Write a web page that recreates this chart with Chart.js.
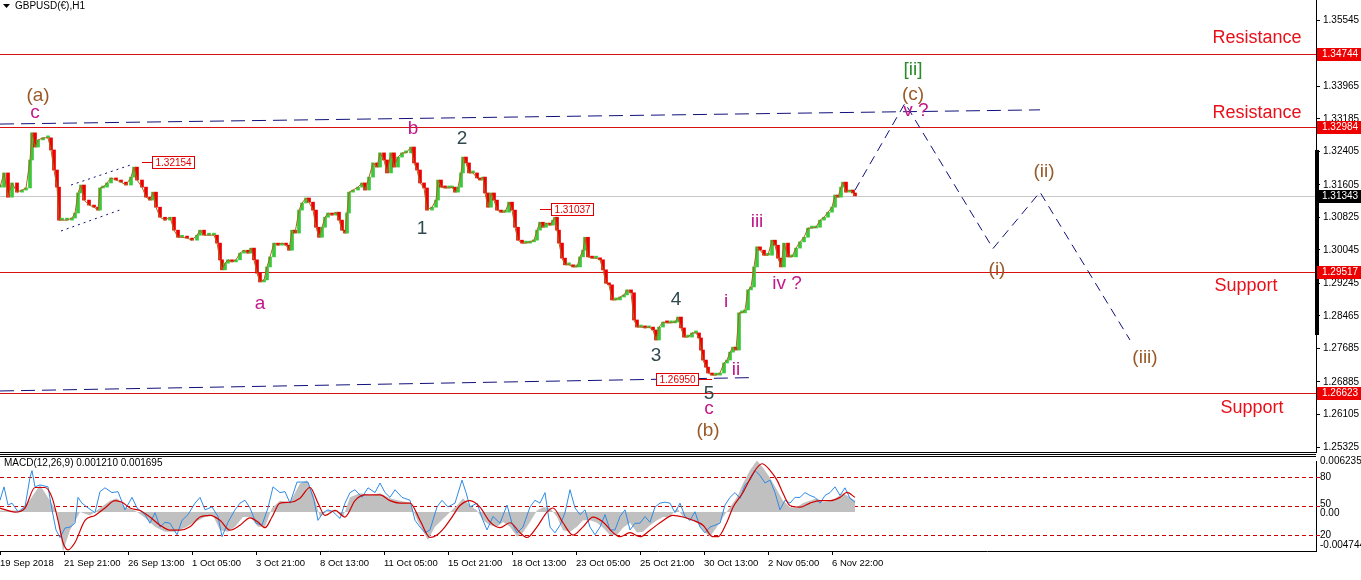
<!DOCTYPE html>
<html><head><meta charset="utf-8">
<script src="https://cdn.jsdelivr.net/npm/chart.js@4.4.1/dist/chart.umd.min.js"></script>
<style>
html,body{margin:0;padding:0;background:#fff;}
#wrap{position:relative;width:1361px;height:580px;overflow:hidden;background:#fff;}
canvas{position:absolute;left:0;}
#c1{top:0;} #c2{top:455px;}
</style></head><body>
<div id="wrap"><canvas id="c1" width="1361" height="455"></canvas><canvas id="c2" width="1361" height="125"></canvas></div>
<script>
// ---------- DATA ----------
const symbolTitle = 'GBPUSD(€),H1';
const macdTitle = 'MACD(12,26,9) 0.001210 0.001695';

// hourly bar index (trading hours from first bar) and close prices
const priceBars = [
  0,4,8,12,17,22,26,30,32,35,
  38,43,48,51,54,57,59,62,67,72,
  75,78,81,84,89,94,98,100,103,107,
  111,116,121,126,131,134,137,142,146,150,
  153,156,160,165,170,174,178,182,187,192,
  197,200,204,209,214,217,220,222,225,228,
  232,236,240,244,248,251,254,257,260,264,
  267,270,274,278,282,286,289,292,295,299,
  302,306,309,313,316,319,322,325,328,332,
  336,339,342,345,347,349,353,358,362,365,
  369,373,377,380,384,387,391,394,398,402,
  406,411,414,417,420,424,427,432,436,438,
  441,445,449,452,455,458,461,463,466,469,
  473,477,480,483,485,488,491,494,497,501,
  505,509,512,515,518,522,526,530,534,537,
  540,543,546,550,553,555,557,559,562,565,
  569,573,577,580,583,585,588,592,596,600,
  603,606,609,612,616,620,624,627,631,634,
  637,641,645,649,653,656,659,663,667,671,
  675,678,681,684,688,692,696,699,701,703,
  706,708,712,716,720,724,727,730,733,736,
  739,742,745,748,751,754,757,760,764,768,
  772,775,778,781,784,788,792,796,800,804,
  808,812,816,820,824,828,832,835,838,841,
  843,846,850,853,855];
const closes = [
  1.3155,1.3189,1.3131,1.3165,1.3143,1.3148,1.3153,1.3220,1.3285,1.3251,
  1.3268,1.3273,1.3273,1.3244,1.3196,1.3155,1.3076,1.3076,1.3076,1.3081,
  1.3093,1.3141,1.3160,1.3124,1.3112,1.3107,1.3100,1.3153,1.3155,1.3165,
  1.3177,1.3172,1.3167,1.3160,1.3179,1.3203,1.3172,1.3155,1.3131,1.3124,
  1.3143,1.3107,1.3083,1.3076,1.3083,1.3052,1.3035,1.3035,1.3033,1.3028,
  1.3040,1.3052,1.3040,1.3040,1.3040,1.3021,1.2981,1.2957,1.2973,1.2981,
  1.2976,1.2981,1.2997,1.3004,1.2997,1.3009,1.2981,1.2949,1.2928,1.2933,
  1.2964,1.2988,1.3021,1.3016,1.3021,1.3016,1.3004,1.3052,1.3045,1.3100,
  1.3117,1.3129,1.3119,1.3100,1.3059,1.3035,1.3059,1.3083,1.3093,1.3088,
  1.3095,1.3076,1.3052,1.3045,1.3093,1.3143,1.3148,1.3155,1.3165,1.3148,
  1.3179,1.3213,1.3203,1.3237,1.3220,1.3189,1.3237,1.3203,1.3227,1.3237,
  1.3237,1.3251,1.3213,1.3196,1.3165,1.3153,1.3100,1.3107,1.3124,1.3172,
  1.3155,1.3153,1.3153,1.3155,1.3143,1.3155,1.3189,1.3227,1.3213,1.3189,
  1.3189,1.3177,1.3172,1.3179,1.3141,1.3107,1.3141,1.3124,1.3100,1.3095,
  1.3095,1.3119,1.3100,1.3059,1.3028,1.3021,1.3021,1.3024,1.3028,1.3052,
  1.3071,1.3059,1.3069,1.3064,1.3076,1.3083,1.3052,1.3021,1.2985,1.2969,
  1.2969,1.2964,1.2964,1.2988,1.3004,1.3035,1.2988,1.2985,1.2985,1.2981,
  1.2957,1.2925,1.2921,1.2885,1.2885,1.2892,1.2897,1.2909,1.2902,1.2837,
  1.2820,1.2820,1.2818,1.2820,1.2813,1.2789,1.2820,1.2832,1.2830,1.2830,
  1.2832,1.2844,1.2818,1.2796,1.2796,1.2806,1.2806,1.2794,1.2765,1.2741,
  1.2724,1.2710,1.2705,1.2705,1.2710,1.2734,1.2741,1.2760,1.2772,1.2765,
  1.2854,1.2854,1.2861,1.2909,1.2916,1.2964,1.3012,1.3004,1.2992,1.2992,
  1.3028,1.3016,1.2985,1.2964,1.3021,1.2988,1.2988,1.3009,1.3024,1.3035,
  1.3057,1.3057,1.3059,1.3076,1.3083,1.3095,1.3107,1.3136,1.3131,1.3155,
  1.3167,1.3143,1.3148,1.3141,1.3134];

// price axis
const priceMin = 1.25209, priceMax = 1.3603;
const priceTicks = [1.35545,1.33965,1.33185,1.32405,1.31605,1.30825,1.30045,1.29245,1.28465,1.27685,1.26885,1.26105,1.25325];
const levelPrices = [1.34744, 1.32984, 1.29517, 1.26623];
const currentPrice = 1.31343;
const axisBarTop = 1.3244, axisBarBottom = 1.2801;

// time axis
const tickBars = [0,64,128,192,256,320,384,448,512,576,640,704,768,832];
const tickLabels = ['19 Sep 2018','21 Sep 21:00','26 Sep 13:00','1 Oct 05:00','3 Oct 21:00','8 Oct 13:00','11 Oct 05:00','15 Oct 21:00','18 Oct 13:00','23 Oct 05:00','25 Oct 21:00','30 Oct 13:00','2 Nov 05:00','6 Nov 22:00'];
const barMax = 1316;

// drawn trend lines (bar, price)
const projectionBars = [855, 905, 993, 1040, 1130];
const projectionPrices = [1.3148, 1.3356, 1.3008, 1.3143, 1.2789];
const channelTopBars = [0, 1040];
const channelTopPrices = [1.3306, 1.3340];
const channelBottomBars = [0, 752];
const channelBottomPrices = [1.2667, 1.2699];
const flagUpperBars = [71, 133];
const flagUpperPrices = [1.3160, 1.3210];
const flagLowerBars = [61, 123];
const flagLowerPrices = [1.3050, 1.3103];

// price tags
const priceTags = [
  {text:'1.32154', price:1.32154, fromBar:142, boxBar:152},
  {text:'1.31037', price:1.31037, fromBar:540, boxBar:551},
  {text:'1.26950', price:1.26950, fromBar:712, boxBar:656}
];

// wave labels
const waveLabels = [
  {t:'(a)', bar:38, price:1.3373, k:'brown'},
  {t:'c', bar:35, price:1.3333, k:'mag'},
  {t:'a', bar:260, price:1.2875, k:'mag'},
  {t:'b', bar:413, price:1.3294, k:'mag'},
  {t:'1', bar:422, price:1.3055, k:'dark'},
  {t:'2', bar:462, price:1.3270, k:'dark'},
  {t:'3', bar:656, price:1.2751, k:'dark'},
  {t:'4', bar:676, price:1.2885, k:'dark'},
  {t:'5', bar:709, price:1.2660, k:'dark'},
  {t:'c', bar:709, price:1.2624, k:'mag'},
  {t:'(b)', bar:708, price:1.2571, k:'brown'},
  {t:'i', bar:726, price:1.2880, k:'mag'},
  {t:'ii', bar:736, price:1.2717, k:'mag'},
  {t:'iii', bar:757, price:1.3072, k:'mag'},
  {t:'iv ?', bar:787, price:1.2923, k:'mag'},
  {t:'[ii]', bar:913, price:1.3435, k:'green'},
  {t:'(c)', bar:913, price:1.3376, k:'brown'},
  {t:'v ?', bar:916, price:1.3337, k:'mag'},
  {t:'(i)', bar:997, price:1.2957, k:'brown'},
  {t:'(ii)', bar:1044, price:1.3191, k:'brown'},
  {t:'(iii)', bar:1145, price:1.2746, k:'brown'},
  {t:'Resistance', bar:1257, price:1.3512, k:'red'},
  {t:'Resistance', bar:1257, price:1.3333, k:'red'},
  {t:'Support', bar:1246, price:1.2918, k:'red'},
  {t:'Support', bar:1252, price:1.2626, k:'red'}
];

// MACD panel
const histBars = [0,20,30,40,50,57,63,70,80,90,100,110,117,125,135,145,155,165,175,185,195,205,213,220,228,235,243,250,258,265,272,280,290,300,307,313,320,328,335,343,350,360,370,380,390,400,410,418,428,435,445,450,457,463,470,477,483,490,497,503,510,517,523,530,537,543,550,557,563,570,577,583,590,597,603,610,617,623,630,637,643,650,657,663,670,677,683,690,697,703,710,717,723,730,737,743,750,757,763,770,777,783,790,797,803,810,817,823,830,837,843,850,855];
const histValues = [0.0002,0.0002,0.0015,0.0033,0.0014,0,-0.0048,-0.0022,0,-0.0004,0.0005,0.0014,0.0017,0.0006,0.0002,-0.0007,-0.0018,-0.0024,-0.0024,-0.0019,-0.0012,-0.0006,-0.0004,-0.0022,-0.0024,-0.0018,-0.0006,-0.0006,-0.0018,-0.0018,0.0005,0.0014,0.0012,0.0035,0.0039,0.0023,-0.0006,0.0002,0.0002,-0.0006,0.0018,0.0023,0.0021,0.0023,0.0017,0.0014,0.0011,-0.0012,-0.0034,-0.0018,-0.0006,0,0.0008,0.0017,0.0008,0.0002,-0.001,-0.0016,-0.0018,-0.0012,-0.0018,-0.003,-0.0025,-0.0012,0.0002,0.0006,0.0005,-0.0006,-0.0022,-0.0024,-0.0018,-0.001,-0.001,-0.0013,-0.0019,-0.0028,-0.0028,-0.0019,-0.0013,-0.0025,-0.0024,-0.0016,-0.001,-0.0006,-0.0006,0.0005,-0.0006,-0.001,-0.0013,-0.0022,-0.003,-0.0018,-0.0006,0.0006,0.0018,0.0035,0.0051,0.0063,0.0054,0.0042,0.0027,0.0014,0.0006,0.0006,0.0011,0.0014,0.0017,0.0012,0.0014,0.0018,0.0023,0.0018,0.0014];
const signalBars = [0,15,25,35,45,52,58,63,68,75,85,95,105,115,122,130,140,150,160,170,180,190,200,210,220,230,240,250,258,265,272,280,290,300,310,318,325,335,345,355,365,380,390,400,410,420,430,437,445,452,460,470,480,490,500,510,520,527,537,547,553,563,573,583,593,603,613,620,630,640,650,660,673,683,693,703,713,718,727,733,743,753,762,770,777,783,790,800,810,820,830,840,847,855];
const signalValues = [0.0005,0,0.0005,0.003,0.003,0.0018,-0.001,-0.0037,-0.0046,-0.0037,-0.001,-0.0004,0.0005,0.0014,0.0012,0.0005,0.0002,-0.0006,-0.0016,-0.0022,-0.0022,-0.0018,-0.0006,-0.0004,-0.001,-0.0022,-0.0016,-0.0007,-0.0012,-0.0019,-0.0006,0.0011,0.0012,0.0017,0.003,0.0011,-0.0004,0.0002,-0.0006,0.0014,0.0021,0.0021,0.0014,0.0011,0.0011,-0.001,-0.0031,-0.0028,-0.0018,-0.0006,0.0008,0.0014,0.0006,-0.0012,-0.0019,-0.0013,-0.0025,-0.0031,-0.0018,0,0.0005,-0.0013,-0.0028,-0.0018,-0.0006,-0.0012,-0.0025,-0.003,-0.0025,-0.003,-0.0022,-0.0013,-0.0004,-0.0006,-0.001,-0.0016,-0.003,-0.003,-0.0012,0.0006,0.0024,0.0047,0.0059,0.0051,0.0039,0.0023,0.0008,0.0006,0.0011,0.0014,0.0014,0.0018,0.0024,0.0018];
const oscBars = [0,4,8,12,18,25,30,32,35,40,48,52,56,60,65,70,75,78,82,88,95,100,105,112,118,125,132,137,145,150,155,160,165,170,177,182,188,195,200,205,212,218,222,228,235,240,245,250,256,262,268,273,280,285,290,297,303,308,314,318,323,328,333,340,345,350,355,362,368,375,380,385,390,395,402,410,415,420,425,430,437,442,448,455,462,466,470,477,483,487,493,500,507,512,517,523,530,535,540,545,550,555,560,565,570,575,580,585,590,595,600,605,610,615,620,625,630,635,640,645,650,655,660,665,670,675,680,685,690,695,700,705,710,715,720,725,730,735,740,745,750,755,760,765,770,775,780,785,790,795,800,805,810,815,820,825,830,835,840,845,850,855];
const oscValues = [56,70,51,53,44,49,80,87,70,72,70,46,25,17,27,28,32,59,53,48,43,65,69,64,65,46,59,48,41,32,43,28,33,32,20,35,41,53,59,46,49,39,18,33,46,53,56,48,32,30,48,70,64,65,53,75,75,75,56,35,43,46,44,37,53,64,67,59,69,64,74,64,59,67,59,56,35,28,22,25,49,56,49,53,77,64,49,53,35,25,39,32,51,32,22,28,49,56,53,64,28,22,30,43,67,48,41,46,28,20,28,41,25,25,39,46,25,32,32,39,33,49,53,54,53,43,53,39,35,44,28,22,28,30,32,51,59,64,58,72,77,87,82,74,77,64,46,56,53,59,59,64,61,59,53,61,64,70,61,69,58,54];
const oscLevels = [80, 50, 20];
const macdMin = -0.004744, macdMax = 0.006235;

// ---------- RENDER ----------
const FONT = "'Liberation Sans', Arial, sans-serif";
const COLORS = {brown:'#9a5a28', mag:'#c2188a', dark:'#2f4a4f', green:'#2a8c2a', red:'#e8101a'};

const candleData = priceBars.map((b,i)=>({x:b, y:[i ? closes[i-1] : closes[0], closes[i]]}));
const candleColors = closes.map((c,i)=> (i && c < closes[i-1]) ? '#ee0000' : '#3cc83c');
const pts = (xs, ys) => xs.map((x,i)=>({x, y:ys[i]}));
const noPad = s => { s.paddingTop = 0; s.paddingBottom = 0; s.paddingLeft = 0; s.paddingRight = 0; };

const topOverlay = {
  id:'topOverlay',
  beforeDatasetsDraw(chart){
    const {ctx, chartArea:a, scales:{y}} = chart;
    ctx.save();
    ctx.lineWidth = 1;
    ctx.strokeStyle = '#c8c8c8';
    let py = Math.round(y.getPixelForValue(currentPrice)) + 0.5;
    ctx.beginPath(); ctx.moveTo(a.left, py); ctx.lineTo(a.right, py); ctx.stroke();
    ctx.strokeStyle = '#d81010';
    levelPrices.forEach(p=>{
      const yy = Math.round(y.getPixelForValue(p)) + 0.5;
      ctx.beginPath(); ctx.moveTo(a.left, yy); ctx.lineTo(a.right, yy); ctx.stroke();
    });
    ctx.restore();
  },
  afterDatasetsDraw(chart){
    const {ctx, chartArea:a, scales:{x, y}} = chart;
    ctx.save();
    // dotted flag channel
    ctx.strokeStyle = '#10107a'; ctx.lineWidth = 1; ctx.setLineDash([2,4]);
    [[flagUpperBars, flagUpperPrices],[flagLowerBars, flagLowerPrices]].forEach(([bs, ps])=>{
      ctx.beginPath();
      ctx.moveTo(x.getPixelForValue(bs[0]), y.getPixelForValue(ps[0]));
      ctx.lineTo(x.getPixelForValue(bs[1]), y.getPixelForValue(ps[1]));
      ctx.stroke();
    });
    ctx.setLineDash([]);
    // price tags
    ctx.font = '10px ' + FONT;
    ctx.textBaseline = 'middle';
    priceTags.forEach(tg=>{
      const yy = Math.round(y.getPixelForValue(tg.price)) + 0.5;
      const bx = Math.round(x.getPixelForValue(tg.boxBar)) + 0.5;
      const w = Math.ceil(ctx.measureText(tg.text).width) + 5;
      const fx = x.getPixelForValue(tg.fromBar);
      ctx.strokeStyle = '#e00000'; ctx.lineWidth = 1;
      ctx.beginPath();
      if (fx < bx) { ctx.moveTo(fx, yy); ctx.lineTo(bx, yy); }
      else { ctx.moveTo(bx + w, yy); ctx.lineTo(fx, yy); }
      ctx.stroke();
      ctx.fillStyle = '#fff';
      ctx.fillRect(bx, yy - 6, w, 12);
      ctx.strokeRect(bx, yy - 6, w, 12);
      ctx.fillStyle = '#e00000';
      ctx.textAlign = 'left';
      ctx.fillText(tg.text, bx + 3, yy + 0.5);
    });
    // wave labels
    ctx.textAlign = 'center';
    waveLabels.forEach(w=>{
      ctx.font = (w.k === 'red' ? '18px ' : '19px ') + FONT;
      ctx.fillStyle = COLORS[w.k];
      ctx.fillText(w.t, x.getPixelForValue(w.bar), y.getPixelForValue(w.price));
    });
    // title
    ctx.fillStyle = '#000';
    ctx.beginPath(); ctx.moveTo(3,4); ctx.lineTo(10,4); ctx.lineTo(6.5,8); ctx.closePath(); ctx.fill();
    ctx.textAlign = 'left';
    ctx.font = '10px ' + FONT;
    ctx.fillText(symbolTitle, 15, 6);
    ctx.restore();
  },
  afterDraw(chart){
    const {ctx, chartArea:a, scales:{y}} = chart;
    ctx.save();
    // panel separators
    ctx.strokeStyle = '#000'; ctx.lineWidth = 1;
    ctx.beginPath(); ctx.moveTo(0, a.bottom + 0.5); ctx.lineTo(a.right, a.bottom + 0.5); ctx.stroke();
    ctx.beginPath(); ctx.moveTo(0, a.bottom + 2.5); ctx.lineTo(a.right, a.bottom + 2.5); ctx.stroke();
    // thick axis bar
    const t = y.getPixelForValue(axisBarTop), b = y.getPixelForValue(axisBarBottom);
    ctx.fillStyle = '#000';
    ctx.fillRect(a.right - 1, t, 4, b - t);
    // level labels
    ctx.font = '10px ' + FONT; ctx.textBaseline = 'middle'; ctx.textAlign = 'left';
    const tag = (p, bg) => {
      const yy = Math.round(y.getPixelForValue(p));
      ctx.fillStyle = bg;
      ctx.fillRect(a.right + 1, yy - 6, 45, 13);
      ctx.fillStyle = '#fff';
      ctx.fillText(p.toFixed(5), a.right + 6, yy + 0.5);
    };
    levelPrices.forEach(p => tag(p, '#ee0000'));
    tag(currentPrice, '#000');
    ctx.restore();
  }
};

new Chart(document.getElementById('c1'), {
  type:'line',
  data:{datasets:[
    {type:'bar', data:candleData, backgroundColor:candleColors, barThickness:3, minBarLength:2, order:2},
    {type:'line', data:pts(priceBars, closes), borderColor:'#a8681c', borderWidth:1, pointRadius:0, order:1},
    {type:'line', data:pts(channelTopBars, channelTopPrices), borderColor:'#10107a', borderWidth:1, borderDash:[14,7], pointRadius:0, order:0},
    {type:'line', data:pts(channelBottomBars, channelBottomPrices), borderColor:'#10107a', borderWidth:1, borderDash:[14,7], pointRadius:0, order:0},
    {type:'line', data:pts(projectionBars, projectionPrices), borderColor:'#10107a', borderWidth:1, borderDash:[9,6], pointRadius:0, order:0}
  ]},
  options:{
    responsive:false, animation:false, devicePixelRatio:1,
    layout:{padding:{left:0, right:0, top:0, bottom:3}},
    plugins:{legend:{display:false}, tooltip:{enabled:false}},
    scales:{
      x:{type:'linear', min:0, max:barMax, display:false, offset:false},
      y:{type:'linear', position:'right', min:priceMin, max:priceMax,
         afterFit(s){ s.width = 45; noPad(s); },
         afterBuildTicks(s){ s.ticks = priceTicks.map(v=>({value:v})); },
         ticks:{callback:v=>Number(v).toFixed(5), font:{family:FONT, size:10}, color:'#000', padding:3},
         grid:{drawOnChartArea:false, drawTicks:true, tickLength:4, color:'#000'},
         border:{display:true, color:'#000'}}
    }
  },
  plugins:[topOverlay]
});

const bottomOverlay = {
  id:'bottomOverlay',
  beforeDatasetsDraw(chart){
    const {ctx, chartArea:a, scales:{yo}} = chart;
    ctx.save();
    ctx.strokeStyle = '#cc0000'; ctx.lineWidth = 1; ctx.setLineDash([4,3]);
    oscLevels.forEach(l=>{
      const yy = Math.round(yo.getPixelForValue(l)) + 0.5;
      ctx.beginPath(); ctx.moveTo(a.left, yy); ctx.lineTo(a.right + 4, yy); ctx.stroke();
    });
    ctx.restore();
  },
  afterDraw(chart){
    const {ctx, chartArea:a, scales:{y, yo}} = chart;
    ctx.save();
    ctx.strokeStyle = '#000'; ctx.lineWidth = 1;
    ctx.beginPath(); ctx.moveTo(0, a.top - 4.5); ctx.lineTo(a.right, a.top - 4.5); ctx.stroke();
    ctx.fillStyle = '#000'; ctx.font = '10px ' + FONT; ctx.textBaseline = 'middle'; ctx.textAlign = 'left';
    ctx.fillText(macdTitle, 4, a.top + 2);
    const x0 = a.right + 4;
    ctx.fillText(macdMax.toFixed(6), x0, a.top);
    ctx.fillText('80', x0, yo.getPixelForValue(80));
    ctx.fillText('50', x0, yo.getPixelForValue(50) - 2);
    ctx.fillText('0.00', x0, y.getPixelForValue(0) + 1);
    ctx.fillText('20', x0, yo.getPixelForValue(20) + 1);
    ctx.fillText(macdMin.toFixed(6), x0, a.bottom - 6);
    ctx.restore();
  }
};

new Chart(document.getElementById('c2'), {
  type:'line',
  data:{datasets:[
    {data:pts(histBars, histValues), yAxisID:'y', borderWidth:0, borderColor:'rgba(0,0,0,0)', backgroundColor:'#c0c0c0', fill:'origin', pointRadius:0, order:3},
    {data:pts(oscBars, oscValues), yAxisID:'yo', borderColor:'#2f8ae6', borderWidth:1, pointRadius:0, order:2},
    {data:pts(signalBars, signalValues), yAxisID:'y', borderColor:'#d00000', borderWidth:1.2, pointRadius:0, cubicInterpolationMode:'monotone', order:1}
  ]},
  options:{
    responsive:false, animation:false, devicePixelRatio:1,
    layout:{padding:{left:0, right:0, top:6, bottom:0}},
    plugins:{legend:{display:false}, tooltip:{enabled:false}},
    scales:{
      x:{type:'linear', min:0, max:barMax, offset:false,
         afterFit(s){ s.height = 29; noPad(s); },
         afterBuildTicks(s){ s.ticks = tickBars.map(v=>({value:v})); },
         ticks:{autoSkip:false, maxRotation:0, align:'start', callback:(v,i)=>tickLabels[i], font:{family:FONT, size:9.5}, color:'#000', padding:3},
         grid:{drawOnChartArea:false, drawTicks:true, tickLength:4, color:'#000'},
         border:{display:true, color:'#000'}},
      y:{type:'linear', position:'right', min:macdMin, max:macdMax,
         afterFit(s){ s.width = 45; noPad(s); },
         ticks:{display:false}, grid:{display:false}, border:{display:true, color:'#000'}},
      yo:{type:'linear', display:false, min:3, max:97}
    }
  },
  plugins:[bottomOverlay]
});
</script>
</body></html>
